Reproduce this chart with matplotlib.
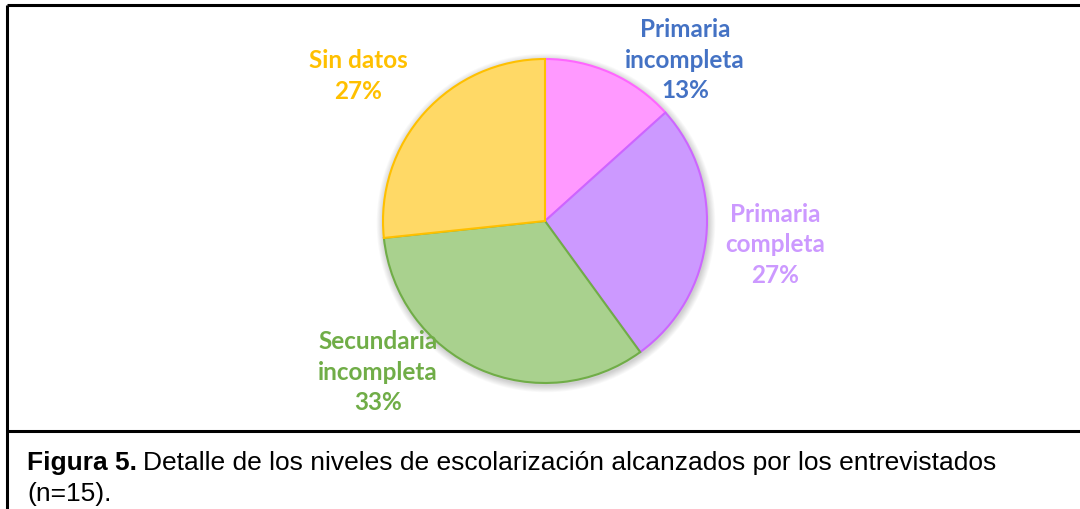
import numpy as np
import matplotlib
matplotlib.use('Agg')
import matplotlib.pyplot as plt
from matplotlib.patches import Circle

# datos: niveles de escolarizacion (n=15)
categorias = ['Primaria\nincompleta', 'Primaria\ncompleta', 'Secundaria\nincompleta', 'Sin datos']
conteos = [2, 4, 5, 4]
colores = ['#FF99FF', '#CC99FF', '#A9D18E', '#FFD966']
bordes = ['#FF66FF', '#CC66FF', '#70AD47', '#FFC000']
color_txt = ['#4472C4', '#CC99FF', '#70AD47', '#FFC000']
# posicion de etiquetas (pixeles, origen arriba-izquierda)
pos_txt = [(685, 60), (775, 245), (378, 372), (358, 76)]

W, H = 1080, 510
fig = plt.figure(figsize=(W / 100, H / 100), dpi=100)
ax = fig.add_axes([0, 0, 1, 1])

cx, cy, r = 545, H - 222, 162

# sombra suave alrededor del pastel
for k in range(8):
    ax.add_patch(Circle((cx + 1, cy - 2), r + 1 + k * 0.9, color='black',
                        alpha=0.025, lw=0, zorder=0))

wedges, _ = ax.pie(conteos, colors=colores, startangle=90, counterclock=False,
                   center=(cx, cy), radius=r, frame=True,
                   wedgeprops=dict(linewidth=1.5))
for w, b in zip(wedges, bordes):
    w.set_edgecolor(b)
    w.set_zorder(2)

total = sum(conteos)
for cat, n, c, (px, py) in zip(categorias, conteos, color_txt, pos_txt):
    ax.text(px, H - py, f"{cat}\n{round(100 * n / total)}%", ha='center', va='center',
            color=c, fontsize=17.5, fontweight='bold', family='Lato',
            linespacing=1.38, zorder=3)

# marco del grafico y del pie de figura
lw = 2.2
ax.plot([6.5, W], [H - 5.5, H - 5.5], color='black', lw=lw, solid_capstyle='butt')
ax.plot([6.5, 6.5], [0, H - 5.5], color='black', lw=lw, solid_capstyle='butt')
ax.plot([6.5, W], [H - 432, H - 432], color='black', lw=lw, solid_capstyle='butt')

ax.set_xlim(0, W)
ax.set_ylim(0, H)
ax.set_aspect('auto')
ax.axis('off')

# pie de figura
fs = 19
t1 = ax.text(27, H - 470, 'Figura 5.', fontsize=fs, fontweight='bold',
             family='Liberation Sans', va='baseline')
fig.canvas.draw()
bb = t1.get_window_extent(renderer=fig.canvas.get_renderer())
ax.text(bb.x1 + 6, H - 470, 'Detalle de los niveles de escolarización alcanzados por los entrevistados',
        fontsize=fs, family='Liberation Sans', va='baseline')
ax.text(27, H - 501, '(n=15).', fontsize=fs, family='Liberation Sans', va='baseline')

fig.savefig('out.png', dpi=100)
